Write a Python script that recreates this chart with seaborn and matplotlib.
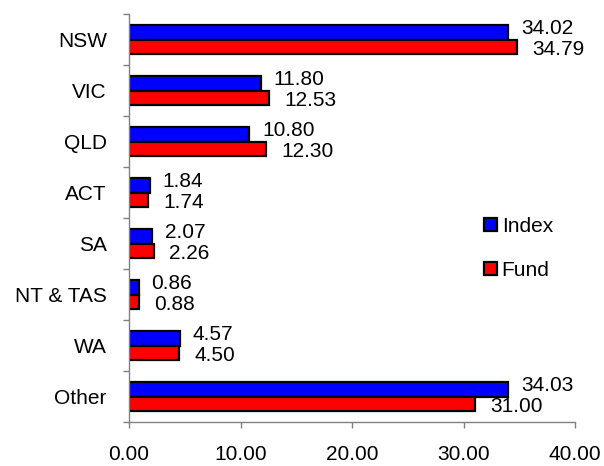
import seaborn as sns
import pandas as pd
import numpy as np
import matplotlib.pyplot as plt
from matplotlib.patches import Patch
from matplotlib.ticker import FormatStrFormatter

regions = ['NSW', 'VIC', 'QLD', 'ACT', 'SA', 'NT & TAS', 'WA', 'Other']
index_vals = [34.02, 11.80, 10.80, 1.84, 2.07, 0.86, 4.57, 34.03]
fund_vals = [34.79, 12.53, 12.30, 1.74, 2.26, 0.88, 4.50, 31.00]
series = ['Index', 'Fund']
colors = ['#0000FF', '#FF0000']

df = pd.DataFrame({
    'region': regions * 2,
    'value': index_vals + fund_vals,
    'series': ['Index'] * len(regions) + ['Fund'] * len(regions),
})

sns.set_style('white')
plt.rcParams['font.family'] = ['Liberation Sans', 'DejaVu Sans']
plt.rcParams['text.color'] = 'black'
plt.rcParams['xtick.labelcolor'] = 'black'
plt.rcParams['ytick.labelcolor'] = 'black'
fs = 15

fig = plt.figure(figsize=(6.04, 4.66), dpi=100)
ax = fig.add_axes([129 / 604, 1 - 422 / 466, (575 - 129) / 604, (422 - 14) / 466])

sns.barplot(data=df, y='region', x='value', hue='series', order=regions,
            hue_order=series, palette=colors, orient='h', width=0.55,
            edgecolor='black', linewidth=1.6, saturation=1, legend=False, ax=ax)

ax.set_xlim(0, 40)
ax.set_ylim(7.5, -0.5)
ax.set_xticks([0, 10, 20, 30, 40])
ax.xaxis.set_major_formatter(FormatStrFormatter('%.2f'))
ax.set_xlabel('')
ax.set_ylabel('')

# category boundaries as minor ticks, labels at centres
ax.set_yticks(np.arange(len(regions)))
ax.set_yticklabels(regions)
ax.set_yticks(np.arange(-0.5, len(regions)), minor=True)
ax.tick_params(axis='y', which='major', length=0, pad=16, labelsize=fs,
               labelcolor='black')
ax.tick_params(axis='y', which='minor', length=4, width=1, color='#808080',
               direction='out', left=True)
ax.tick_params(axis='x', length=4.5, width=1, color='#808080', direction='out',
               bottom=True, pad=12, labelsize=fs, labelcolor='black')

for side in ['top', 'right']:
    ax.spines[side].set_visible(False)
for side in ['left', 'bottom']:
    ax.spines[side].set_color('#808080')
    ax.spines[side].set_linewidth(1)

# value labels
bh = 0.55 / 2
for i in range(len(regions)):
    ax.annotate('%.2f' % index_vals[i], (index_vals[i], i - bh / 2),
                xytext=(9, 3), textcoords='offset points', ha='left',
                va='center', fontsize=fs, color='black')
    ax.annotate('%.2f' % fund_vals[i], (fund_vals[i], i + bh / 2),
                xytext=(11, -2), textcoords='offset points', ha='left',
                va='center', fontsize=fs, color='black')

handles = [Patch(facecolor=c, edgecolor='black', linewidth=1.6) for c in colors]
fig.legend(handles, series, loc='upper left', bbox_to_anchor=(484 / 604, 1 - 217 / 466),
           bbox_transform=fig.transFigure, frameon=False, fontsize=fs,
           handlelength=0.6, handleheight=0.6, handletextpad=0.25,
           labelspacing=1.2, borderpad=0, borderaxespad=0)

plt.savefig('out.png', dpi=100)
